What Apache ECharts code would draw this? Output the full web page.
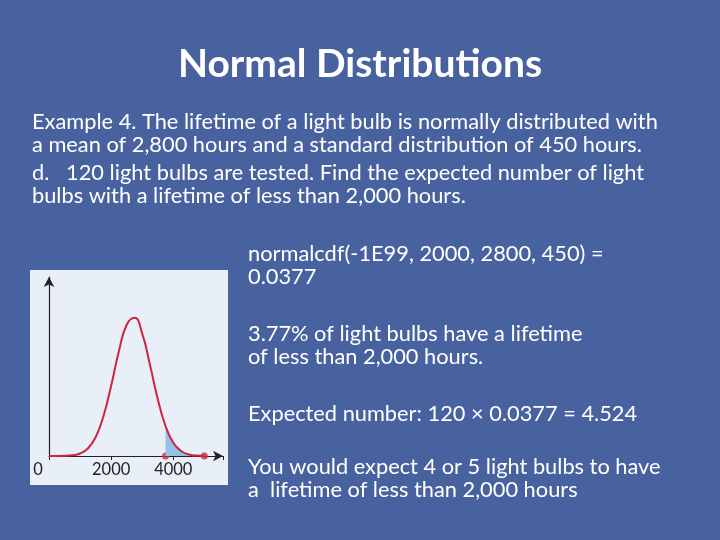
<!DOCTYPE html>
<html>
<head>
<meta charset="utf-8">
<script src="https://cdn.jsdelivr.net/npm/echarts@6/dist/echarts.min.js"></script>
<style>
html, body { margin: 0; padding: 0; background: #4862a0; }
#main { width: 720px; height: 540px; }
</style>
</head>
<body>
<div id="main"></div>
<script>
// 曲线数据 (hours, relative height)
var hours = [0, 250, 500, 750, 1000, 1250, 1500, 1750, 2000, 2250, 2500, 2750, 3000, 3250, 3500, 3750, 4000, 4250, 4500, 4750, 5000];
var density = [0, 0, 0.001, 0.005, 0.018, 0.054, 0.135, 0.285, 0.506, 0.755, 0.946, 0.997, 0.882, 0.657, 0.411, 0.216, 0.096, 0.036, 0.011, 0.003, 0];
var shadedFrom = 3750;
var markers = [3750, 5000];
var tickLabels = ['0', '2000', '4000'];

var bodyLines = [
    [32, 122, 'Example 4. The lifetime of a light bulb is normally distributed with'],
    [32, 145, 'a mean of 2,800 hours and a standard distribution of 450 hours.'],
    [32, 173, 'd.   120 light bulbs are tested. Find the expected number of light'],
    [32, 196, 'bulbs with a lifetime of less than 2,000 hours.'],
    [248, 254, 'normalcdf(-1E99, 2000, 2800, 450) ='],
    [248, 277, '0.0377'],
    [248, 334, '3.77% of light bulbs have a lifetime'],
    [248, 357, 'of less than 2,000 hours.'],
    [248, 414, 'Expected number: 120 \u00d7 0.0377 = 4.524'],
    [248, 467, 'You would expect 4 or 5 light bulbs to have'],
    [248, 490, 'a  lifetime of less than 2,000 hours']
];

var curve = hours.map(function (h, i) { return [h, density[i]]; });
var shaded = curve.filter(function (p) { return p[0] >= shadedFrom; });

var graphics = [{
    type: 'rect', z: -10,
    shape: { x: 30, y: 270, width: 198, height: 215 },
    style: { fill: '#e9eff9' }
}, {
    type: 'text', left: 'center', top: 45,
    style: { text: 'Normal Distributions', fill: '#fff', font: 'bold 39px Lato' }
}];
bodyLines.forEach(function (l) {
    graphics.push({
        type: 'text', x: l[0], y: l[1],
        style: { text: l[2], fill: '#fff', font: '21.8px Lato', textVerticalAlign: 'middle' }
    });
});

var myChart = echarts.init(document.getElementById('main'));
var option = {
    backgroundColor: '#4862a0',
    animation: false,
    graphic: graphics,
    grid: { left: 49, top: 277, width: 174, height: 179 },
    xAxis: {
        type: 'value', min: 0, max: 5600, interval: 2000,
        axisLine: { lineStyle: { color: '#222', width: 1.2 }, symbol: ['none', 'arrow'], symbolSize: [8, 10] },
        axisTick: { show: true, length: 4, lineStyle: { color: '#222' } },
        splitLine: { show: false },
        axisLabel: {
            color: '#222', fontSize: 16.5, fontFamily: 'Lato', margin: 5,
            formatter: function (v) {
                var i = tickLabels.indexOf(String(v));
                return i === 0 ? '{z|0}' : (i > 0 ? tickLabels[i] : '');
            },
            rich: { z: { fontSize: 16.5, color: '#222', padding: [0, 22, 6, 0] } }
        }
    },
    yAxis: {
        type: 'value', min: 0, max: 1.29,
        axisLine: { show: true, lineStyle: { color: '#222', width: 1.2 }, symbol: ['none', 'arrow'], symbolSize: [8, 10] },
        axisTick: { show: false }, axisLabel: { show: false }, splitLine: { show: false }
    },
    series: [{
        type: 'line', data: shaded, smooth: true, symbol: 'none',
        lineStyle: { width: 0 }, areaStyle: { color: '#8fc3e8', opacity: 1 }
    }, {
        type: 'line', data: curve, smooth: true, symbol: 'none',
        lineStyle: { color: '#d0253e', width: 2 }
    }, {
        type: 'scatter', data: markers.map(function (m) { return [m, 0]; }),
        symbolSize: 7, itemStyle: { color: '#d0253e' }
    }]
};
myChart.setOption(option);
</script>
</body>
</html>
